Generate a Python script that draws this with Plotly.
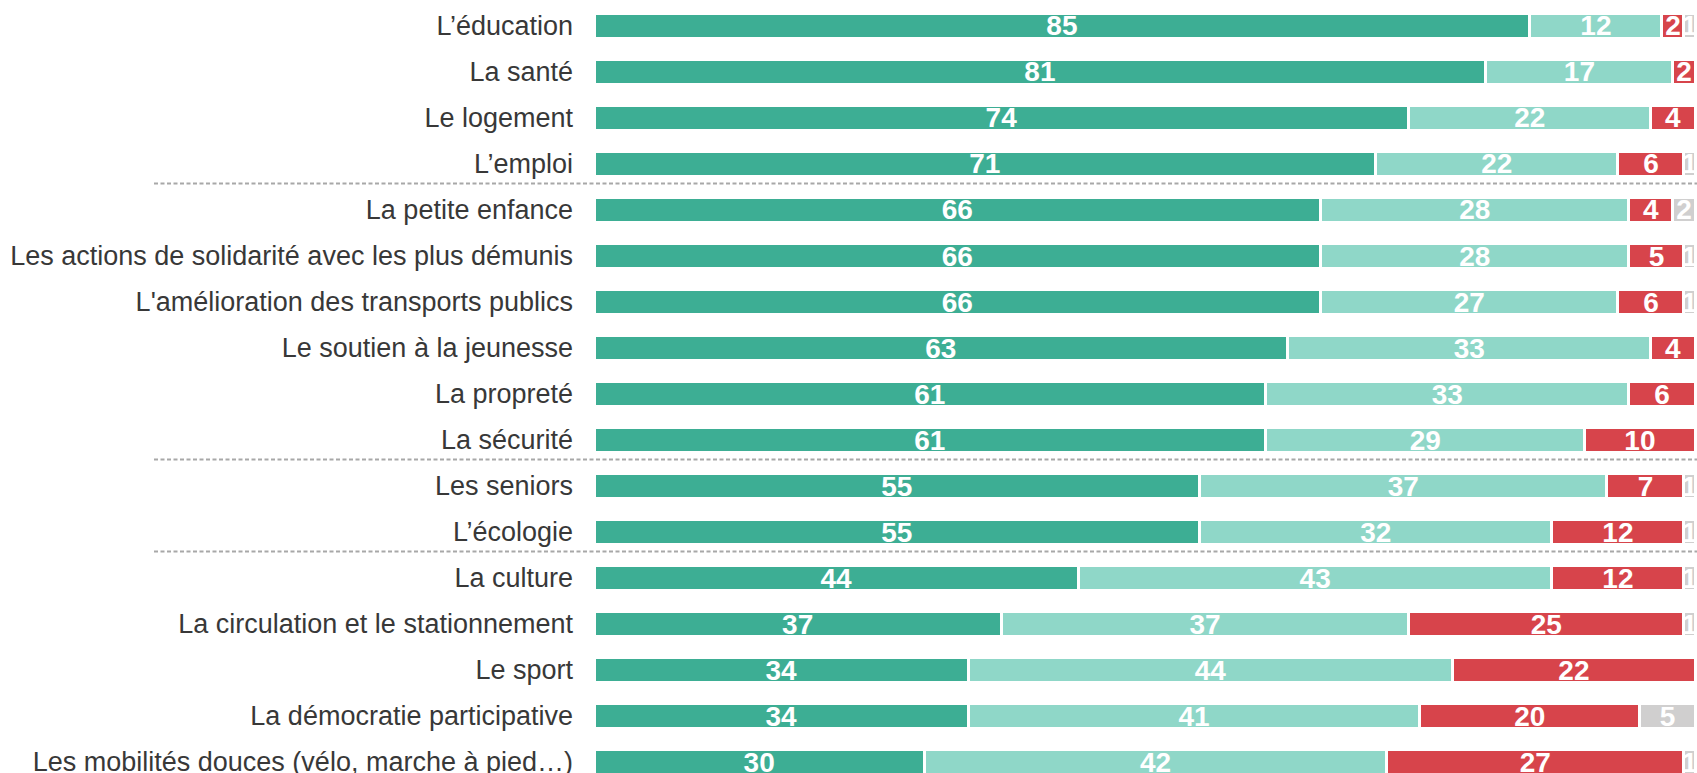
import plotly.graph_objects as go

categories = [
    "L’éducation", "La santé", "Le logement", "L’emploi",
    "La petite enfance", "Les actions de solidarité avec les plus démunis",
    "L'amélioration des transports publics", "Le soutien à la jeunesse",
    "La propreté", "La sécurité", "Les seniors", "L’écologie",
    "La culture", "La circulation et le stationnement", "Le sport",
    "La démocratie participative", "Les mobilités douces (vélo, marche à pied…)",
]
tres_prioritaire = [85, 81, 74, 71, 66, 66, 66, 63, 61, 61, 55, 55, 44, 37, 34, 34, 30]
assez_prioritaire = [12, 17, 22, 22, 28, 28, 27, 33, 33, 29, 37, 32, 43, 37, 44, 41, 42]
pas_prioritaire = [2, 2, 4, 6, 4, 5, 6, 4, 6, 10, 7, 12, 12, 25, 22, 20, 27]
nsp = [1, 0, 0, 1, 2, 1, 1, 0, 0, 0, 1, 1, 1, 1, 0, 5, 1]
series_names = ["Très prioritaire", "Assez prioritaire", "Pas prioritaire", "NSP"]
separators_after = [3, 9, 11]

colors = ["#3dae94", "#8fd7c8", "#d7444b", "#d0cfcf"]

fig = go.Figure()
for name, vals, col in zip(series_names,
                           [tres_prioritaire, assez_prioritaire, pas_prioritaire, nsp],
                           colors):
    fig.add_trace(go.Bar(
        y=list(range(len(categories))), x=vals, orientation="h", name=name,
        marker=dict(color=col, line=dict(color="white", width=3)),
        width=0.54,
        text=[str(v) if v else "" for v in vals],
        textposition="inside", insidetextanchor="middle",
        constraintext="none", textangle=0,
        textfont=dict(family="Liberation Sans, Arial", size=28, color="white", weight="bold"),
        hoverinfo="skip",
    ))

for idx in separators_after:
    fig.add_shape(type="line", xref="paper", yref="y",
                  x0=(154 - 594) / 1101, x1=1.01, y0=idx + 0.425, y1=idx + 0.425,
                  line=dict(color="#a8a8a8", width=2, dash="4px,2.5px"))

fig.update_layout(
    width=1697, height=773,
    margin=dict(l=594, r=2, t=0, b=0, pad=0),
    barmode="stack", showlegend=False,
    plot_bgcolor="white", paper_bgcolor="white",
    xaxis=dict(range=[0, 100], visible=False, fixedrange=True, automargin=False),
    yaxis=dict(
        range=[16.239, -0.565], automargin=False,
        tickmode="array", tickvals=list(range(len(categories))), ticktext=categories,
        showgrid=False, zeroline=False, showline=False, ticks="",
        ticklabelstandoff=20, ticklabeloverflow="allow",
        tickfont=dict(family="Liberation Sans, Arial", size=27, color="#383838"),
    ),
)

fig.write_html(
    "out.html",
    config={"displayModeBar": False},
    post_script="document.body.style.margin='0';document.body.style.overflow='hidden';",
)
